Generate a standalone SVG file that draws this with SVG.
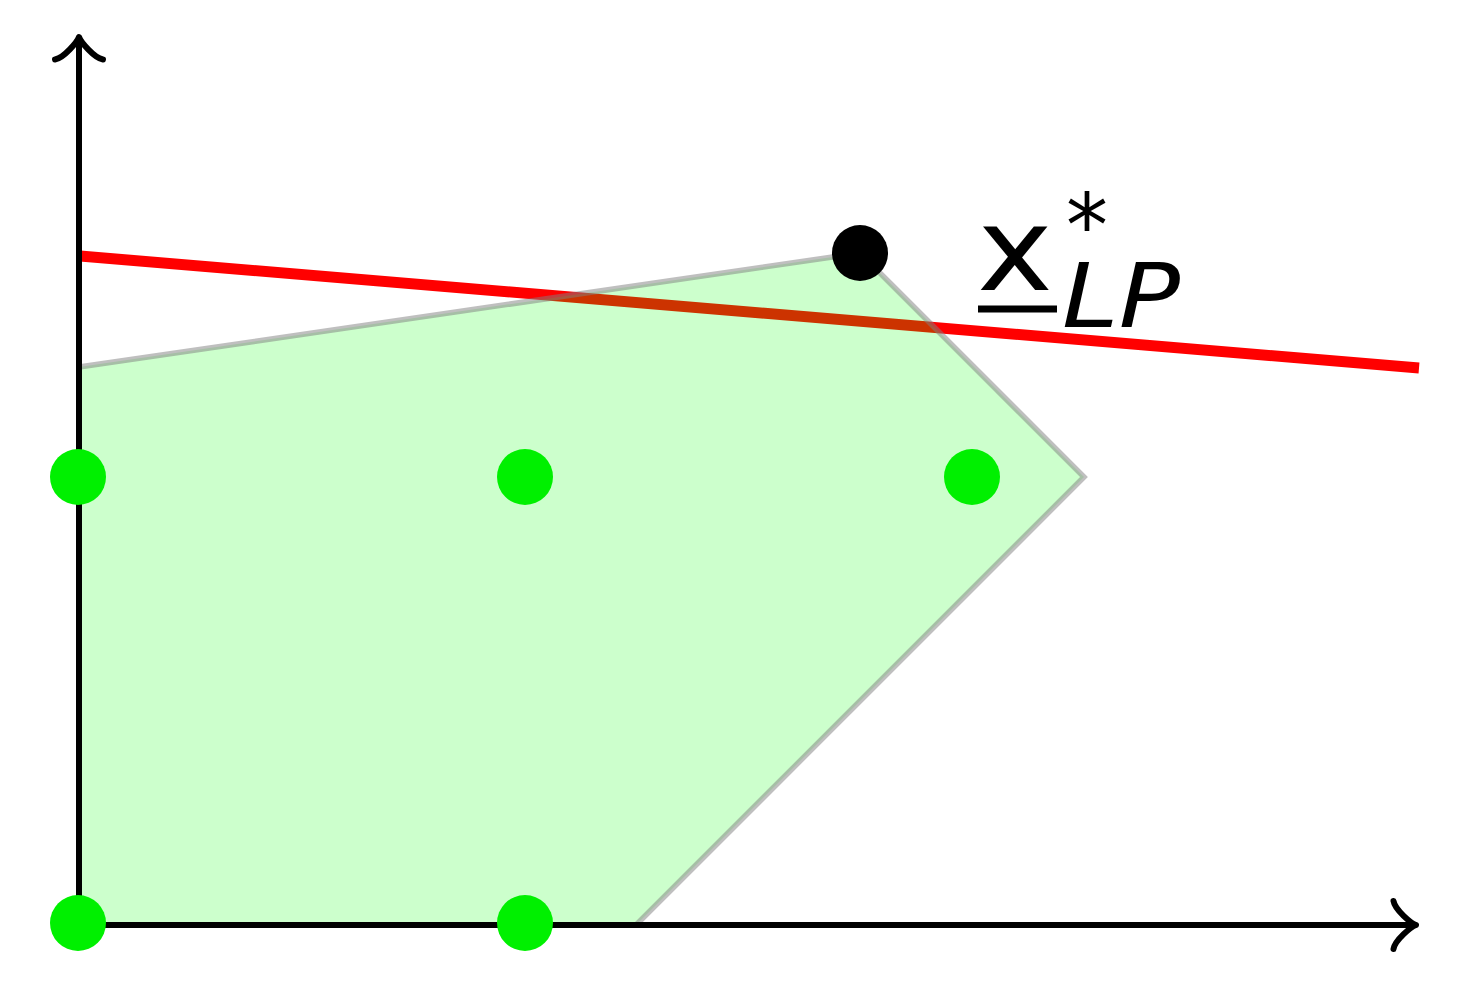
<svg xmlns="http://www.w3.org/2000/svg" width="1484" height="1000" viewBox="0 0 1484 1000">
<style>
.axis{fill:none;stroke:#000;stroke-width:6;stroke-linecap:round;stroke-linejoin:round}
.pt{fill:#00f000}
.lbl{font-family:"DejaVu Sans",sans-serif;fill:#000}
</style>
<rect width="1484" height="1000" fill="#fff"/>
<g id="objective">
<line x1="80" y1="256" x2="1419" y2="368" stroke="#ff0000" stroke-width="11"/>
</g>
<g id="region">
<polygon points="79,367 860,253 1084,477 636,925 79,925" fill="#00ff00" fill-opacity="0.2" stroke="#808080" stroke-opacity="0.5" stroke-width="5.5"/>
</g>
<g id="axes">
<line class="axis" x1="79" y1="925" x2="1415" y2="925"/>
<line class="axis" x1="79" y1="925" x2="79" y2="38"/>
<path class="axis" d="M1393.5,901 C1395,910 1411.5,923.5 1416,925 C1411.5,926.5 1395,940 1393.5,949"/>
<path class="axis" d="M55,59.5 C64,58 77.5,41.5 79,37 C80.5,41.5 94,58 103,59.5"/>
</g>
<g id="points">
<circle class="pt" cx="78" cy="477" r="28"/>
<circle class="pt" cx="525" cy="477" r="28"/>
<circle class="pt" cx="972" cy="477" r="28"/>
<circle class="pt" cx="78" cy="923" r="28"/>
<circle class="pt" cx="525" cy="923" r="28"/>
</g>
<g id="optimum">
<circle cx="860" cy="253" r="28" fill="#000"/>
</g>
<g id="label">
<text class="lbl" x="977" y="290" font-size="115" textLength="76" lengthAdjust="spacingAndGlyphs">x</text>
<line x1="978" y1="309" x2="1057" y2="309" stroke="#000" stroke-width="7"/>
<text class="lbl" x="1066" y="256" font-size="88" textLength="42" lengthAdjust="spacingAndGlyphs">*</text>
<text class="lbl" x="1062" y="327" font-size="89" font-style="italic" textLength="118" lengthAdjust="spacingAndGlyphs">LP</text>
</g>
</svg>
